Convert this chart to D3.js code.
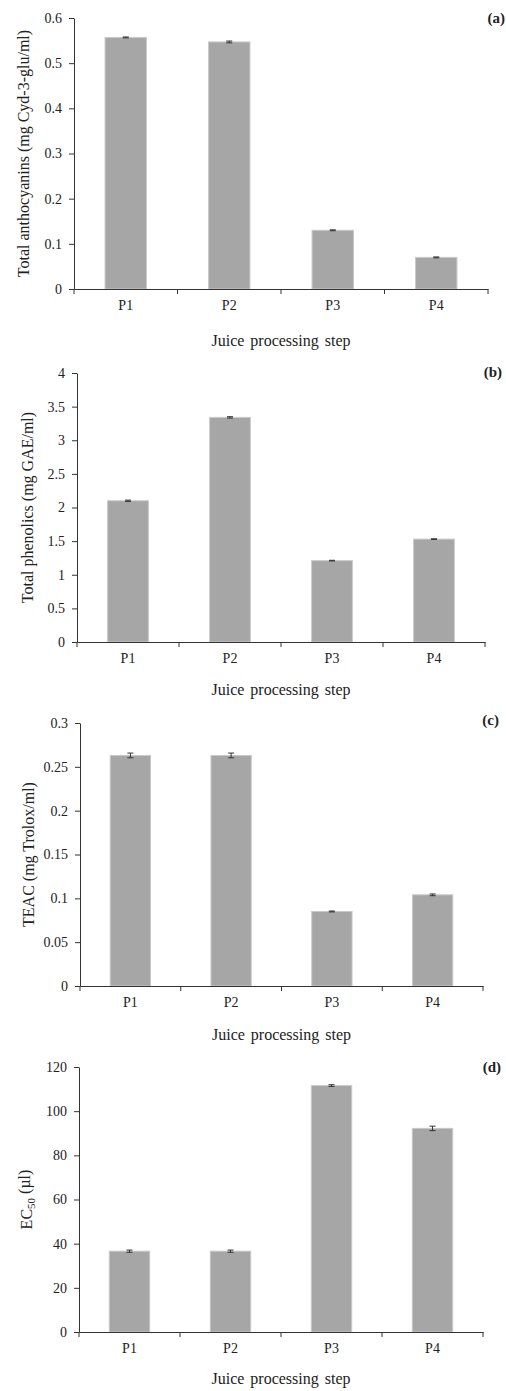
<!DOCTYPE html>
<html>
<head>
<meta charset="utf-8">
<script src="https://cdn.jsdelivr.net/npm/d3@7"></script>
<style>
  body { margin: 0; background: #fff; }
  text { font-family: "Liberation Serif", "Times New Roman", serif; fill: #222; }
</style>
</head>
<body>
<div id="chart"></div>
<script>
const w = 506;
const h = 1391;

// data
const steps = ["P1", "P2", "P3", "P4"];

const anthocyanins = [0.557, 0.547, 0.130, 0.070];
const anthocyaninsErr = [0.001, 0.002, 0.001, 0.001];
const anthocyaninsTicks = [0, 0.1, 0.2, 0.3, 0.4, 0.5, 0.6];

const phenolics = [2.10, 3.34, 1.21, 1.53];
const phenolicsErr = [0.01, 0.01, 0.005, 0.005];
const phenolicsTicks = [0, 0.5, 1, 1.5, 2, 2.5, 3, 3.5, 4];

const teac = [0.263, 0.263, 0.085, 0.104];
const teacErr = [0.0027, 0.0027, 0.0005, 0.001];
const teacTicks = [0, 0.05, 0.1, 0.15, 0.2, 0.25, 0.3];

const ec50 = [36.6, 36.6, 111.6, 92.2];
const ec50Err = [0.5, 0.5, 0.4, 1.0];
const ec50Ticks = [0, 20, 40, 60, 80, 100, 120];

const xTitle = "Juice processing step";

// panel layout
const panels = [
    {tag: "(a)", vals: anthocyanins, errs: anthocyaninsErr, ticks: anthocyaninsTicks,
     left: 74, right: 488, top: 18, bottom: 289, ylabX: 23, xlabY: 346, tagX: 505, tagY: 23,
     ylab: "Total anthocyanins (mg Cyd-3-glu/ml)"},
    {tag: "(b)", vals: phenolics, errs: phenolicsErr, ticks: phenolicsTicks,
     left: 77, right: 485, top: 373, bottom: 642, ylabX: 27, xlabY: 695, tagX: 502, tagY: 377,
     ylab: "Total phenolics (mg GAE/ml)"},
    {tag: "(c)", vals: teac, errs: teacErr, ticks: teacTicks,
     left: 80, right: 483, top: 723, bottom: 986, ylabX: 28, xlabY: 1040, tagX: 499, tagY: 725,
     ylab: "TEAC (mg Trolox/ml)"},
    {tag: "(d)", vals: ec50, errs: ec50Err, ticks: ec50Ticks,
     left: 79, right: 483, top: 1067, bottom: 1332, ylabX: 26, xlabY: 1384, tagX: 501, tagY: 1072,
     ylab: null}
];

const svg = d3.select("#chart")
    .append("svg")
    .attr("width", w)
    .attr("height", h);

panels.forEach(function(p, i) {
    const g = svg.append("g").attr("class", "panel");

    const x = d3.scaleBand()
        .domain(steps)
        .range([p.left, p.right])
        .padding(0);

    const y = d3.scaleLinear()
        .domain([0, d3.max(p.ticks)])
        .range([p.bottom, p.top]);

    const bw = x.bandwidth() * 0.4;

    // bars
    g.selectAll(".bar")
        .data(p.vals)
        .enter()
        .append("rect")
        .attr("class", "bar")
        .attr("x", (d, j) => x(steps[j]) + (x.bandwidth() - bw) / 2)
        .attr("y", d => y(d))
        .attr("width", bw)
        .attr("height", d => p.bottom - y(d))
        .attr("fill", "#a6a6a6")
        .attr("stroke", "#c9c9c9")
        .attr("stroke-width", 1);

    // error bars
    const eb = g.selectAll(".err")
        .data(p.vals)
        .enter()
        .append("g")
        .attr("class", "err")
        .attr("stroke", "#333")
        .attr("stroke-width", 1);

    eb.append("line")
        .attr("x1", (d, j) => x(steps[j]) + x.bandwidth() / 2)
        .attr("x2", (d, j) => x(steps[j]) + x.bandwidth() / 2)
        .attr("y1", (d, j) => y(d - p.errs[j]))
        .attr("y2", (d, j) => y(d + p.errs[j]));
    eb.append("line")
        .attr("x1", (d, j) => x(steps[j]) + x.bandwidth() / 2 - 3)
        .attr("x2", (d, j) => x(steps[j]) + x.bandwidth() / 2 + 3)
        .attr("y1", (d, j) => y(d + p.errs[j]))
        .attr("y2", (d, j) => y(d + p.errs[j]));
    eb.append("line")
        .attr("x1", (d, j) => x(steps[j]) + x.bandwidth() / 2 - 3)
        .attr("x2", (d, j) => x(steps[j]) + x.bandwidth() / 2 + 3)
        .attr("y1", (d, j) => y(d - p.errs[j]))
        .attr("y2", (d, j) => y(d - p.errs[j]));

    // y axis
    const yAxis = g.append("g")
        .attr("transform", "translate(" + p.left + ",0)")
        .call(d3.axisLeft(y)
            .tickValues(p.ticks)
            .tickFormat(d => String(+d.toFixed(3)))
            .tickSize(5)
            .tickSizeOuter(0)
            .tickPadding(7));

    // x axis (labels centred in bands)
    const xAxis = g.append("g")
        .attr("transform", "translate(0," + p.bottom + ")")
        .call(d3.axisBottom(x).tickSize(0).tickPadding(11));

    // tick marks on band boundaries
    const bounds = steps.map(s => x(s)).concat([p.right]);
    g.selectAll(".btick")
        .data(bounds)
        .enter()
        .append("line")
        .attr("class", "btick")
        .attr("x1", d => d)
        .attr("x2", d => d)
        .attr("y1", p.bottom)
        .attr("y2", p.bottom + 5)
        .attr("stroke", "#333");

    [yAxis, xAxis].forEach(function(a) {
        a.selectAll("path").attr("stroke", "#333");
        a.selectAll("line").attr("stroke", "#333");
        a.selectAll("text")
            .style("font-family", "'Liberation Serif', 'Times New Roman', serif")
            .style("font-size", "14px")
            .attr("fill", "#222");
    });

    // y title
    const yt = g.append("text")
        .attr("transform", "translate(" + p.ylabX + "," + ((p.top + p.bottom) / 2) + ") rotate(-90)")
        .attr("text-anchor", "middle")
        .attr("dy", "0.35em")
        .style("font-size", "16px");
    if (p.ylab) {
        yt.text(p.ylab);
    } else {
        yt.append("tspan").text("EC");
        yt.append("tspan").attr("dy", "0.3em").style("font-size", "11px").text("50");
        yt.append("tspan").attr("dy", "-0.3em").text(" (\u00b5l)");
    }

    // x title
    g.append("text")
        .attr("x", (p.left + p.right) / 2)
        .attr("y", p.xlabY)
        .attr("text-anchor", "middle")
        .style("font-size", "16px")
        .style("word-spacing", "2px")
        .text(xTitle);

    // panel tag
    g.append("text")
        .attr("x", p.tagX)
        .attr("y", p.tagY)
        .attr("text-anchor", "end")
        .style("font-size", "15px")
        .style("font-weight", "bold")
        .text(p.tag);
});
</script>
</body>
</html>
